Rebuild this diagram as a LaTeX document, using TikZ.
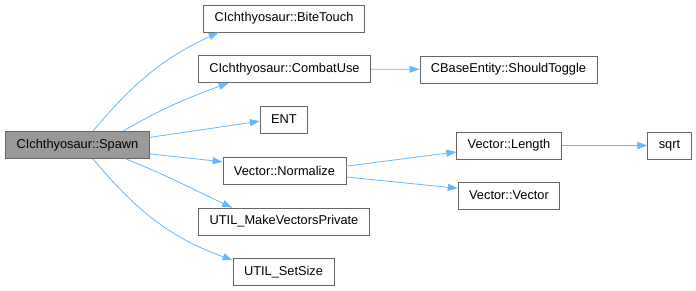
\documentclass[tikz,border=0pt]{standalone}
\usepackage{fontspec}
\setmainfont{Liberation Sans}
\usepackage{tikz}
\usetikzlibrary{arrows.meta}
\definecolor{edgeblue}{HTML}{63B8FF}
\definecolor{boxline}{HTML}{666666}
\tikzstyle{func} = [draw=boxline, fill=white, rectangle, line width=0.8pt, minimum height=27pt, inner xsep=11pt, inner ysep=2pt, font=\fontsize{12.8pt}{14pt}\selectfont]
\tikzstyle{root} = [func, fill=black!40]
\tikzstyle{call} = [draw=edgeblue, line width=0.8pt, -{Triangle[length=10pt,width=7pt]}]

\begin{document}
\begin{tikzpicture}[x=1pt, y=1pt]
    \useasboundingbox (0,0) rectangle (696,-291);
    \node[root] (spawn) at (77.5,-145) {CIchthyosaur::Spawn};
    \node[func] (bite) at (284,-18.5) {CIchthyosaur::BiteTouch};
    \node[func] (combat) at (284.5,-69) {CIchthyosaur::CombatUse};
    \node[func] (ent) at (284,-119.5) {ENT};
    \node[func] (normalize) at (284.5,-170.5) {Vector::Normalize};
    \node[func] (makevec) at (284,-221.5) {UTIL\_MakeVectorsPrivate};
    \node[func] (setsize) at (283.5,-272) {UTIL\_SetSize};
    \node[func] (toggle) at (508.5,-69.5) {CBaseEntity::ShouldToggle};
    \node[func] (length) at (509,-145.5) {Vector::Length};
    \node[func] (vector) at (509,-195.5) {Vector::Vector};
    \node[func] (sqrt) at (669.5,-145.5) {sqrt};

    \draw[call] (spawn.42) to[out=50, in=205] (bite.192);
    \draw[call] (spawn.17) to[out=30, in=200] (combat.194);
    \draw[call] (spawn.6) -- (ent.184);
    \draw[call] (spawn.-7) -- (normalize.172);
    \draw[call] (spawn.-16) to[out=-22, in=155] (makevec.165);
    \draw[call] (spawn.-42) to[out=-50, in=160] (setsize.167);
    \draw[call] (combat) -- (toggle);
    \draw[call] (normalize.4) -- (length.187);
    \draw[call] (normalize.-6) -- (vector.172);
    \draw[call] (length) -- (sqrt);
\end{tikzpicture}
\end{document}
